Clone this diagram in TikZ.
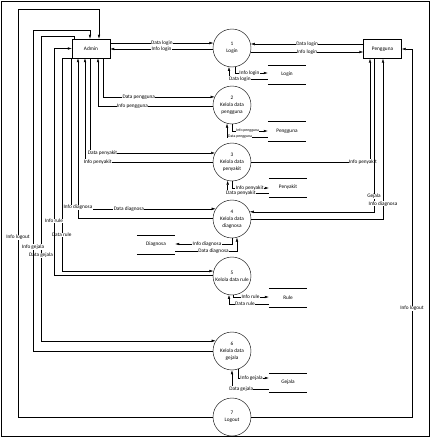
\documentclass[tikz,border=0pt]{standalone}
\usepackage{fontspec}
\setmainfont{Carlito}
\usetikzlibrary{arrows.meta}

\tikzset{
  ent/.style={draw, minimum width=19mm, minimum height=9.5mm, inner sep=0pt, font=\fontsize{7.5}{9}\selectfont},
  proc/.style={draw, circle, minimum size=19mm, inner sep=0pt, align=center, font=\fontsize{7.5}{10}\selectfont},
  store/.style={minimum width=19mm, minimum height=9.5mm, inner sep=0pt, font=\fontsize{7.5}{9}\selectfont,
    append after command={(\tikzlastnode.north west) edge (\tikzlastnode.north east)
      (\tikzlastnode.south west) edge (\tikzlastnode.south east)}},
  flow/.style={-{Latex[length=2mm,width=1.3mm]}},
  lbl/.style={fill=white, inner sep=0.4pt, font=\fontsize{7.5}{8}\selectfont},
  lbls/.style={lbl, font=\fontsize{5.5}{6}\selectfont},
}

\begin{document}
\begin{tikzpicture}[x=0.5mm, y=-0.5mm, line width=0.6pt]
  %%%%% START %%%%%
  \useasboundingbox (0,0) rectangle (431,437);
  \draw[line width=1.2pt] (1,1.5) rectangle (429.5,436);

  % entities
  \node[ent] (admin) at (91,48.5) {Admin};
  \node[ent] (peng) at (382.5,49) {Pengguna};

  % processes
  \node[proc] (c1) at (232,48) {1\\Login};
  \node[proc] (c2) at (232,105) {2\\Kelola data\\pengguna};
  \node[proc] (c3) at (232,162) {3\\Kelola data\\penyakit};
  \node[proc] (c4) at (232,219) {4\\Kelola data\\diagnosa};
  \node[proc] (c5) at (232,276) {5\\Kelola data rule};
  \node[proc] (c6) at (232,351) {6\\Kelola data\\gejala};
  \node[proc] (c7) at (232,417) {7\\Logout};

  % data stores
  \node[store] (login) at (287,74.5) {Login};
  \node[store] (pstore) at (287,131) {Pengguna};
  \node[store] (pyk) at (288,187.5) {Penyakit};
  \node[store] (dstore) at (156,244.5) {Diagnosa};
  \node[store] (rule) at (288,297.5) {Rule};
  \node[store] (gjl) at (288,382.5) {Gejala};

  % login
  \draw[flow] (admin.east |- c1.165) -- node[lbl]{Data login} (c1.165);
  \draw[flow] (c1.183) -- node[lbl]{Info login} (admin.east |- c1.183);
  \draw[flow] (peng.west |- c1.12) -- node[lbl]{Data login} (c1.12);
  \draw[flow] (c1.-12) -- node[lbl]{Info login} (peng.west |- c1.-12);
  \draw[flow] (c1.-81) |- node[lbl, pos=0.72]{Info login} (login.west |- 0,73);
  \draw[flow] (login.west |- 0,79) -| node[lbl, pos=0.36]{Data login} (c1.-99);

  % pengguna
  \draw[flow] (admin.south -| 103,0) |- node[lbl, pos=0.66]{Data pengguna} (c2.155);
  \draw[flow] (c2.183) -| node[lbl, pos=0.35]{Info pengguna} (admin.south -| 98,0);
  \draw[flow] (c2.south) |- node[lbls, pos=0.72]{Info pengguna} (pstore.west |- 0,131);
  \draw[flow] (pstore.west |- 0,137) -| node[lbls, pos=0.34]{Data pengguna} (c2.-105);

  % penyakit
  \draw[flow] (admin.south -| 90,0) |- node[lbl, pos=0.55]{Data penyakit} (c3.152);
  \draw[flow] (c3.west) -| node[lbl, pos=0.45]{Info penyakit} (admin.south -| 85,0);
  \draw[flow] (c3.east) -| node[lbl, pos=0.47]{Info penyakit} (peng.south -| 370,0);
  \draw[flow] (c3.south) |- node[lbl, pos=0.74]{Info penyakit} (pyk.west |- 0,188);
  \draw[flow] (pyk.west |- 0,193) -| node[lbl, pos=0.34]{Data penyakit} (c3.-103);

  % diagnosa
  \draw[flow] (admin.south -| 71,0) |- node[lbl, pos=0.7]{Data diagnosa} (c4.148);
  \draw[flow] (c4.177) -| node[lbl, pos=0.534]{Info diagnosa} (admin.south -| 78,0);
  \draw[flow] (peng.south -| 374,0) |- node[lbl, pos=0.45]{Gejala} (c4.22);
  \draw[flow] (c4.east) -| node[lbl, pos=0.547]{Info diagnosa} (peng.south -| 383,0);
  \draw[flow] (c4.south) |- node[lbl, pos=0.72]{Info diagnosa} (dstore.east |- 0,244);
  \draw[flow] (dstore.east |- 0,251) -| node[lbl, pos=0.31]{Data diagnosa} (c4.-75);

  % rule
  \draw[flow] (admin.south west) -- ++(-10,0) |- node[lbl, pos=0.415]{Data rule} (c5.165);
  \draw[flow] (c5.177) -| (admin.west -| 54,0) node[lbl, pos=0.62]{Info rule} -- (admin.west);
  \draw[flow] (c5.-85) |- node[lbl, pos=0.74]{Info rule} (rule.west |- 0,297);
  \draw[flow] (rule.west |- 0,304) -| node[lbl, pos=0.3]{Data rule} (c5.-99);

  % gejala
  \draw[flow] (admin.north -| 74,0) |- (41,36) |- node[lbl, pos=0.36]{Data gejala} (c6.148);
  \draw[flow] (c6.west) -| node[lbl, pos=0.662]{Info gejala} (33,30) -| (admin.north -| 90,0);
  \draw[flow] (c6.-72) |- node[lbl, pos=0.72]{Info gejala} (gjl.west |- 0,378);
  \draw[flow] (gjl.west |- 0,389) -| node[lbl, pos=0.375]{Data gejala} (c6.south);

  % logout
  \draw[flow] (c7.west) -| node[lbl, pos=0.72]{Info logout} (18,9) -| (admin.north -| 99,0);
  \draw[flow] (c7.east) -| (peng.east -| 412,0) node[lbl, pos=0.648]{Info logout} -- (peng.east);
  %%%%% END %%%%%
\end{tikzpicture}
\end{document}
